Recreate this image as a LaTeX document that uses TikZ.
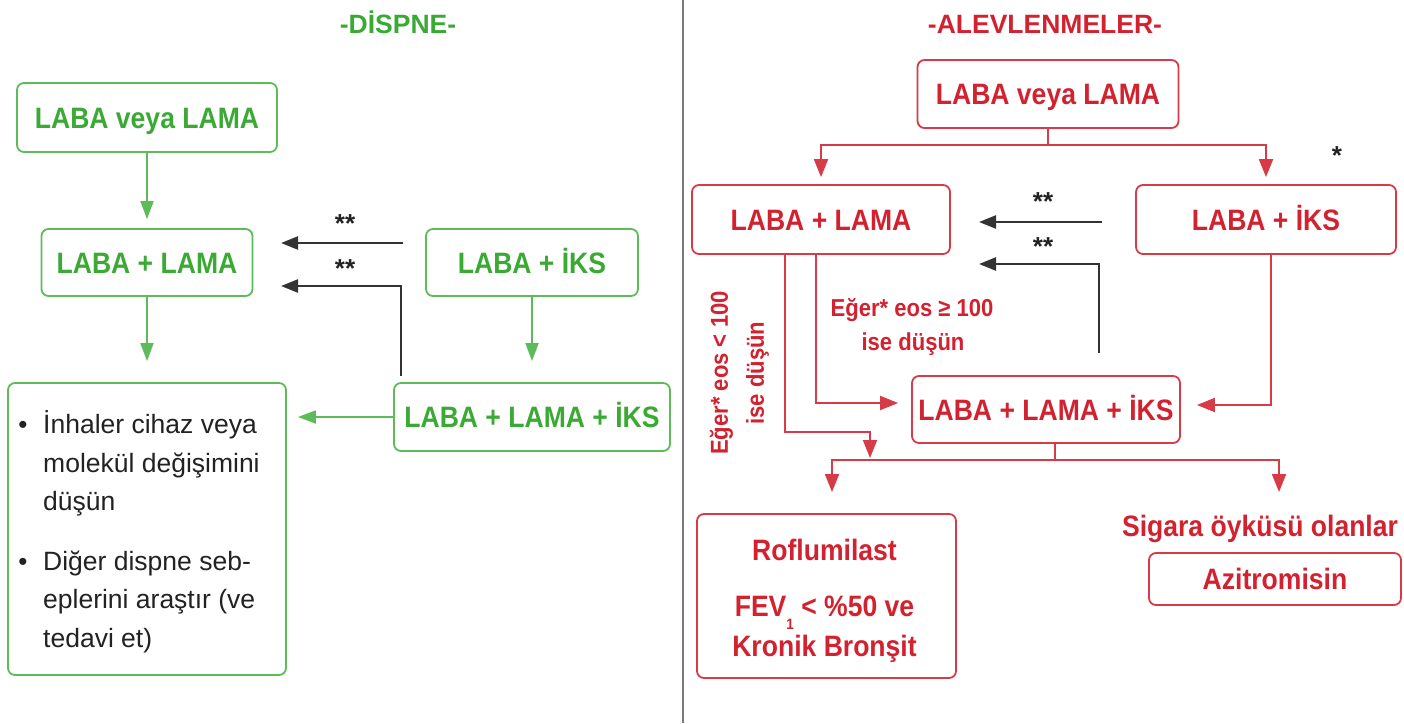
\documentclass[tikz,border=0pt]{standalone}
\usepackage{fontspec}
\setmainfont{Liberation Sans}
\newfontfamily\condsans[FakeStretch=0.9]{Liberation Sans}
\usetikzlibrary{arrows.meta}
\definecolor{gtxt}{HTML}{3AAA35}
\definecolor{gline}{HTML}{5DBB5A}
\definecolor{rtxt}{HTML}{D3222F}
\definecolor{rline}{HTML}{D63B47}
\definecolor{darkc}{HTML}{333333}
\definecolor{bodytxt}{HTML}{222222}
\definecolor{divc}{HTML}{7A7A7A}
\begin{document}
\begin{tikzpicture}[x=1pt,y=-1pt,
  bigbold/.style={font=\condsans\fontsize{29.5}{34}\selectfont\bfseries},
  box/.style={rounded corners=7pt, line width=1.8pt, inner sep=0pt, text height=21.1pt, text depth=0pt, bigbold},
  gbox/.style={box, draw=gline, text=gtxt},
  rbox/.style={box, draw=rline, text=rtxt},
  titletxt/.style={font=\fontsize{26.5}{30}\selectfont\bfseries, inner sep=0pt, text height=19pt, text depth=0pt},
  rtext/.style={bigbold, text=rtxt, inner sep=0pt},
  annot/.style={font=\condsans\fontsize{24.5}{28}\selectfont\bfseries, text=rtxt, inner sep=0pt, text height=17.5pt, text depth=0pt},
  starlbl/.style={font=\fontsize{26}{30}\selectfont\bfseries, text=bodytxt, inner sep=0pt, anchor=base},
  bodyline/.style={font=\fontsize{26.5}{30}\selectfont, text=bodytxt, inner sep=0pt, anchor=base west},
  bulletlbl/.style={font=\fontsize{26}{30}\selectfont, text=bodytxt, inner sep=0pt, anchor=base},
  garrow/.style={draw=gline, line width=1.8pt, -{Triangle[length=18pt,width=13pt]}},
  rlinest/.style={draw=rline, line width=1.9pt},
  rarrow/.style={rlinest, -{Triangle[length=18pt,width=14pt]}},
  barrow/.style={draw=darkc, line width=2.3pt, -{Triangle[length=17pt,width=13pt]}},
]
\fill[white] (0,0) rectangle (1404,723);
\useasboundingbox (0,0) rectangle (1404,723);

% divider
\coordinate (dv1) at (683,0);
\coordinate (dv2) at (683,723);
\draw[divc, line width=2pt] (dv1) -- (dv2);

% ---------------- left panel ----------------
\node[titletxt, text=gtxt] (t1) at (398,24) {-DİSPNE-};
\node[gbox, minimum width=260pt, minimum height=69pt] (gA) at (147,117.5) {LABA veya LAMA};
\node[gbox, minimum width=211pt, minimum height=67pt] (gB) at (147,262.5) {LABA + LAMA};
\node[gbox, minimum width=212pt, minimum height=67pt] (gC) at (532,262.5) {LABA + İKS};
\node[gbox, minimum width=276pt, minimum height=68pt] (gD) at (532,417) {LABA + LAMA + İKS};
\node[draw=gline, rounded corners=7pt, line width=1.8pt, minimum width=278pt, minimum height=292pt, inner sep=0pt] (gE) at (147,529) {};

\node[bulletlbl] (b1) at (23,433) {•};
\node[bodyline] (l1) at (43,433) {İnhaler cihaz veya};
\node[bodyline] (l2) at (43,472) {molekül değişimini};
\node[bodyline] (l3) at (43,510) {düşün};
\node[bulletlbl] (b2) at (23,570) {•};
\node[bodyline] (l4) at (43,570) {Diğer dispne seb-};
\node[bodyline] (l5) at (43,608) {eplerini araştır (ve};
\node[bodyline] (l6) at (43,647) {tedavi et)};

\draw[garrow, shorten >=9pt] (gA.south) -- (gB.north);
\draw[garrow, shorten >=21pt] (gB.south) -- (gE.north);
\draw[garrow, shorten >=21pt] (gC.south) -- (gC.south |- gD.north);
\draw[garrow, shorten >=11pt] (gD.west) -- (gE.east |- gD.west);

\coordinate (ls1) at (403,243);
\coordinate (le1) at (281,243);
\draw[barrow] (ls1) -- (le1);
\coordinate (ls2) at (401,376);
\coordinate (lk2) at (401,286);
\coordinate (le2) at (281,286);
\draw[barrow] (ls2) -- (lk2) -- (le2);
\node[starlbl] (s1) at (345,232) {**};
\node[starlbl] (s2) at (345,277) {**};

% ---------------- right panel ----------------
\node[titletxt, text=rtxt] (t2) at (1045,24) {-ALEVLENMELER-};
\node[rbox, minimum width=261pt, minimum height=68pt] (rA) at (1048,94) {LABA veya LAMA};
\node[rbox, minimum width=258pt, minimum height=69pt] (rB) at (821,219.5) {LABA + LAMA};
\node[rbox, minimum width=260pt, minimum height=69pt] (rC) at (1266,219.5) {LABA + İKS};
\node[rbox, minimum width=268pt, minimum height=67pt] (rD) at (1046,409.5) {LABA + LAMA + İKS};
\node[draw=rline, rounded corners=7pt, line width=1.8pt, minimum width=259pt, minimum height=164pt, inner sep=0pt] (rE) at (826.5,596) {};
\node[rbox, minimum width=252pt, minimum height=52pt] (rF) at (1275,579) {Azitromisin};

\node[rtext, anchor=base] (ro1) at (824.5,560) {Roflumilast};
\node[rtext, anchor=base] (ro2) at (824.5,616) {FEV\raisebox{-13pt}{\fontsize{15}{15}\selectfont 1} {<} \%50 ve};
\node[rtext, anchor=base] (ro3) at (824.5,656) {Kronik Bronşit};
\node[rtext, anchor=base] (sg) at (1260,536) {Sigara öyküsü olanlar};

% fork from rA
\coordinate (f1) at (1048,145);
\draw[rlinest] (rA.south) -- (f1);
\draw[rarrow] (f1) -| ([yshift=7pt]rB.north);
\draw[rarrow] (f1) -| ([yshift=7pt]rC.north);
\node[starlbl] (s3) at (1337,164) {*};

% black arrows right
\coordinate (rs1) at (1102,222);
\coordinate (re1) at (979,222);
\draw[barrow] (rs1) -- (re1);
\coordinate (rs2) at (1099,353);
\coordinate (rk2) at (1099,264);
\coordinate (re2) at (979,264);
\draw[barrow] (rs2) -- (rk2) -- (re2);
\node[starlbl] (s4) at (1043,210) {**};
\node[starlbl] (s5) at (1043,255) {**};

% rC -> rD
\coordinate (ck) at (1271,405);
\draw[rarrow] ([xshift=5pt]rC.south) -- (ck) -- ([xshift=16pt]rD.east |- ck);

% rB branches
\coordinate (k1) at (785,432);
\coordinate (k1b) at (870,432);
\coordinate (k1t) at (870,458);
\draw[rarrow] (rB.south -| k1) -- (k1) -- (k1b) -- (k1t);
\coordinate (k2) at (816,403);
\draw[rarrow] (rB.south -| k2) -- (k2) -- ([xshift=-13pt]rD.west |- k2);

\node[annot, rotate=90] (n1) at (719,373) {Eğer* eos < 100};
\node[annot, rotate=90] (n2) at (755,373) {ise düşün};
\node[annot] (n3) at (912,308) {Eğer* eos ≥ 100};
\node[annot] (n4) at (913,342) {ise düşün};

% fork from rD
\coordinate (f2) at (1055,460);
\coordinate (e1) at (832,492);
\coordinate (e2) at (1279,492);
\draw[rlinest] ([xshift=9pt]rD.south) -- (f2);
\draw[rarrow] (f2) -| (e1);
\draw[rarrow] (f2) -| (e2);
\end{tikzpicture}
\end{document}
